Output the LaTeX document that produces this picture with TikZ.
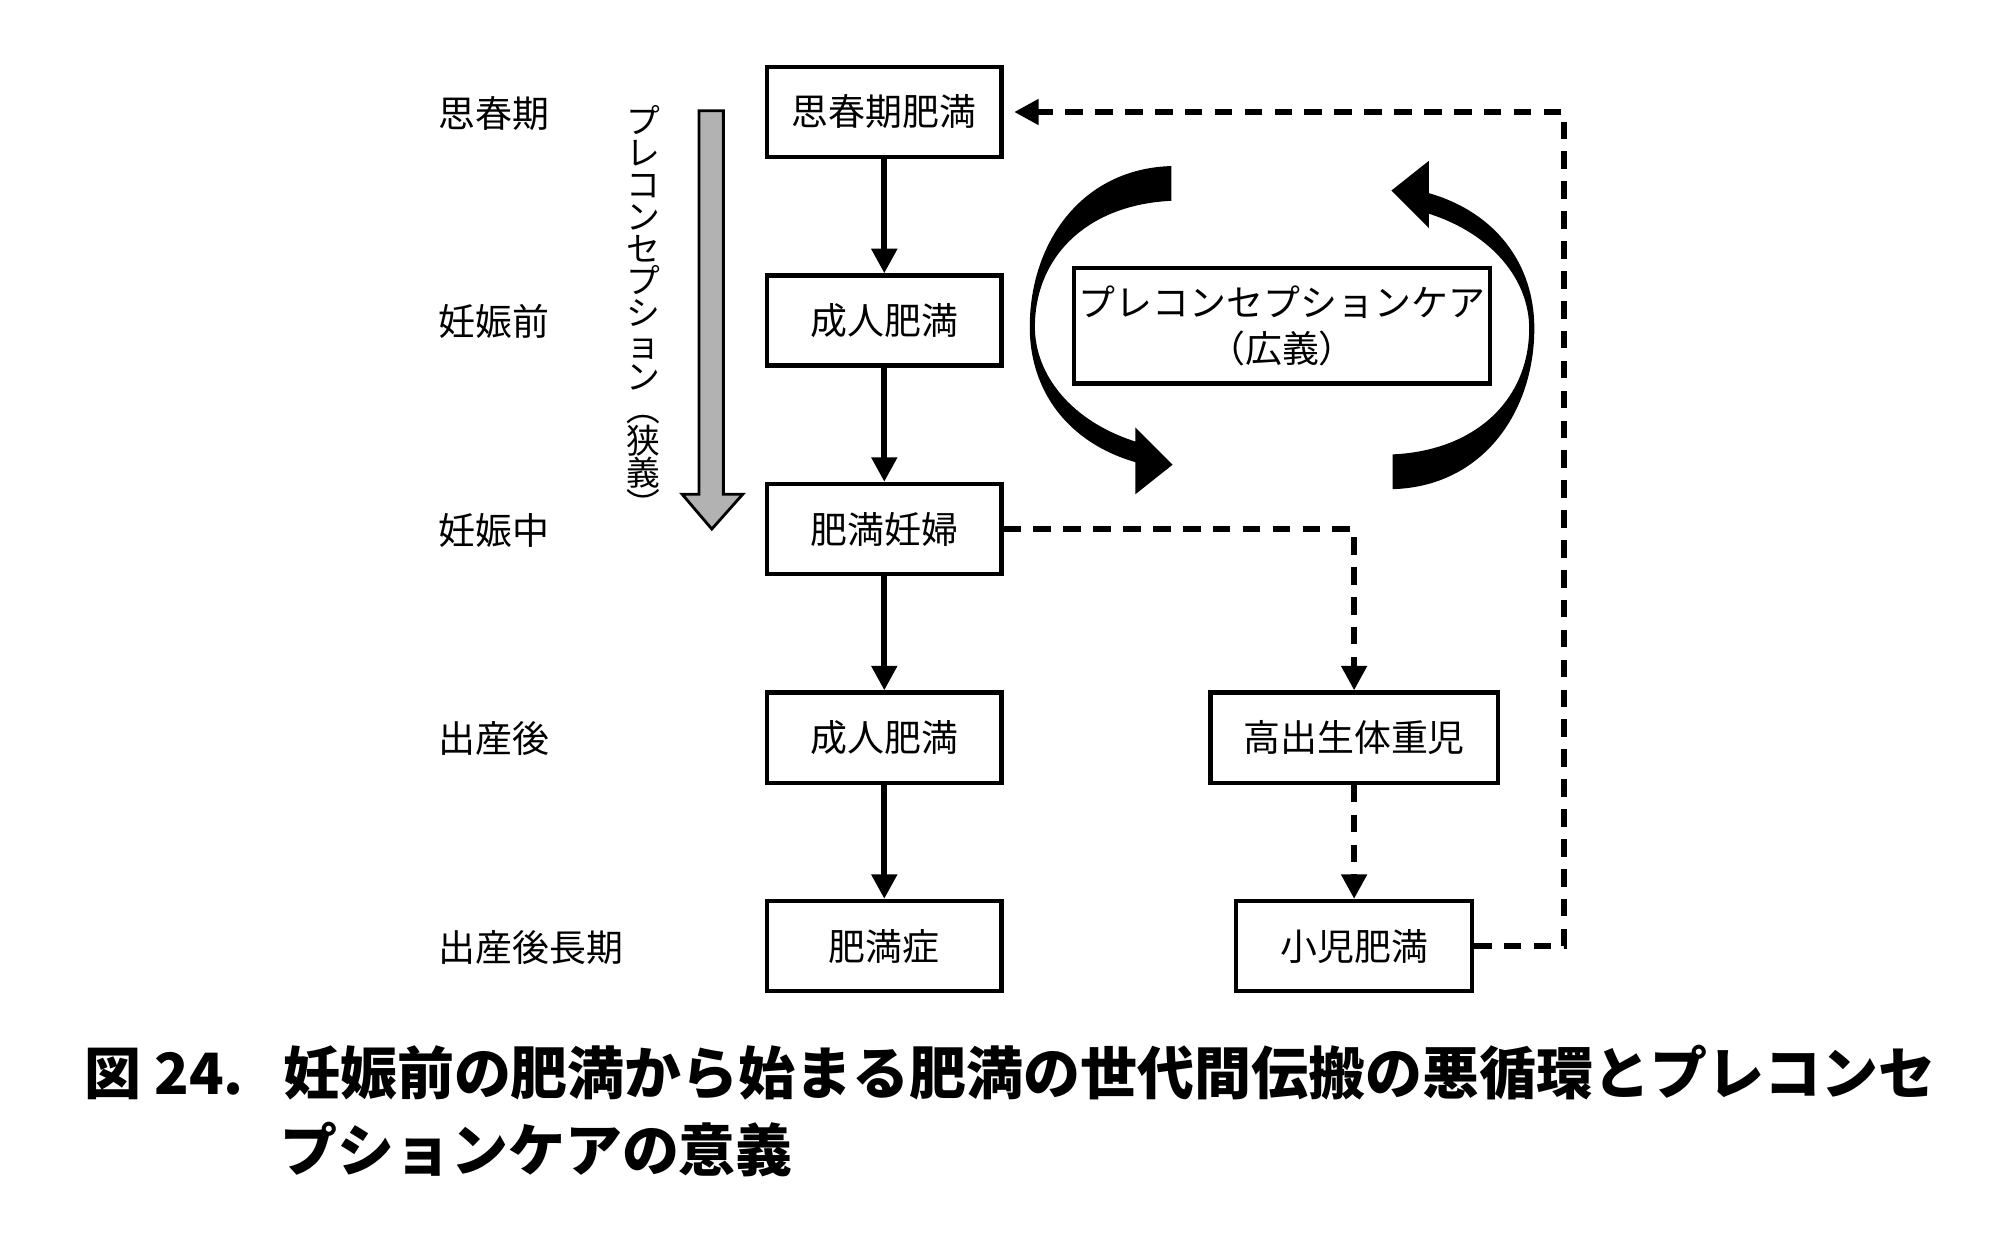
\documentclass[tikz,border=0pt]{standalone}
\usepackage{fontspec}
\setmainfont{Noto Sans CJK JP}
\usetikzlibrary{arrows.meta}
\begin{document}
\begin{tikzpicture}[x=0.01287cm,y=-0.01287cm,
  box/.style={draw,line width=1.2pt,inner sep=0pt,font=\fontsize{10.5}{12}\selectfont},
  lab/.style={anchor=west,font=\fontsize{10.5}{12}\selectfont},
  sol/.style={line width=1.8pt,-{Triangle[length=7pt,width=7pt]}},
  das/.style={line width=1.8pt,dash pattern=on 5pt off 3.5pt,-{Triangle[length=7pt,width=7pt]}}]
\useasboundingbox (0,0) rectangle (1560,963.5);
\foreach \n/\t/\y in {l1/思春期/88,l2/妊娠前/250,l3/妊娠中/412,l4/出産後/574,l5/出産後長期/736}
  \node[lab] (\n) at (331,\y) {\t};
\tikzset{cb/.style={box,minimum width=182*0.01287cm,minimum height=70*0.01287cm}}
\node[cb] (a) at (687,87) {思春期肥満};
\node[cb] (b) at (687,249) {成人肥満};
\node[cb] (c) at (687,411) {肥満妊婦};
\node[cb] (d) at (687,573) {成人肥満};
\node[cb] (e) at (687,735) {肥満症};
\node[box,minimum width=223*0.01287cm,minimum height=70*0.01287cm] (f) at (1052,573) {高出生体重児};
\node[box,minimum width=183*0.01287cm,minimum height=70*0.01287cm] (g) at (1052,735) {小児肥満};
\node[box,minimum width=323*0.01287cm,minimum height=90*0.01287cm,align=center,font=\fontsize{10.5}{13}\selectfont] (h) at (996,253) {プレコンセプションケア\\（広義）};
\draw[sol] (a) -- (b);
\draw[sol] (b) -- (c);
\draw[sol] (c) -- (d);
\draw[sol] (d) -- (e);
\coordinate (c1) at (1052,411);
\draw[das] (c.east) -- (c1) -- (f.north);
\draw[das] (f) -- (g);
\coordinate (g1) at (1215,735);
\coordinate (g2) at (1215,87);
\draw[das] (g.east) -- (g1) -- (g2) -- ([xshift=3pt]a.east);
% gray arrow
\draw[line width=0.8pt,fill=black!30] (543,86) -- (562,86) -- (562,384) -- (577,384) -- (553,411) -- (530,384) -- (543,384) -- cycle;
\node[align=center,font=\fontsize{9.6}{9.1}\selectfont,inner sep=0pt] (v) at (500,242) {プ\\レ\\コ\\ン\\セ\\プ\\シ\\ョ\\ン\\︵\\狭\\義\\︶};
% curved arrows
\def\crescent{(910,129) .. controls (840,131) and (800,189) .. (800,254) .. controls (800,304) and (830,344) .. (882,359) -- (882,384) -- (911,361) -- (882,332) -- (882,343) .. controls (832,327) and (804,291) .. (804,254) .. controls (804,199) and (845,159) .. (910,156) -- cycle}
\fill \crescent;
\fill[rotate around={180:(996,254.5)}] \crescent;
\node[anchor=west,font=\bfseries\fontsize{16.2}{18}\selectfont] (cap1) at (56,833) {図 24.\ \ \ 妊娠前の肥満から始まる肥満の世代間伝搬の悪循環とプレコンセ};
\node[anchor=west,font=\bfseries\fontsize{16.2}{18}\selectfont] (cap2) at (208,893) {プションケアの意義};
\end{tikzpicture}
\end{document}
